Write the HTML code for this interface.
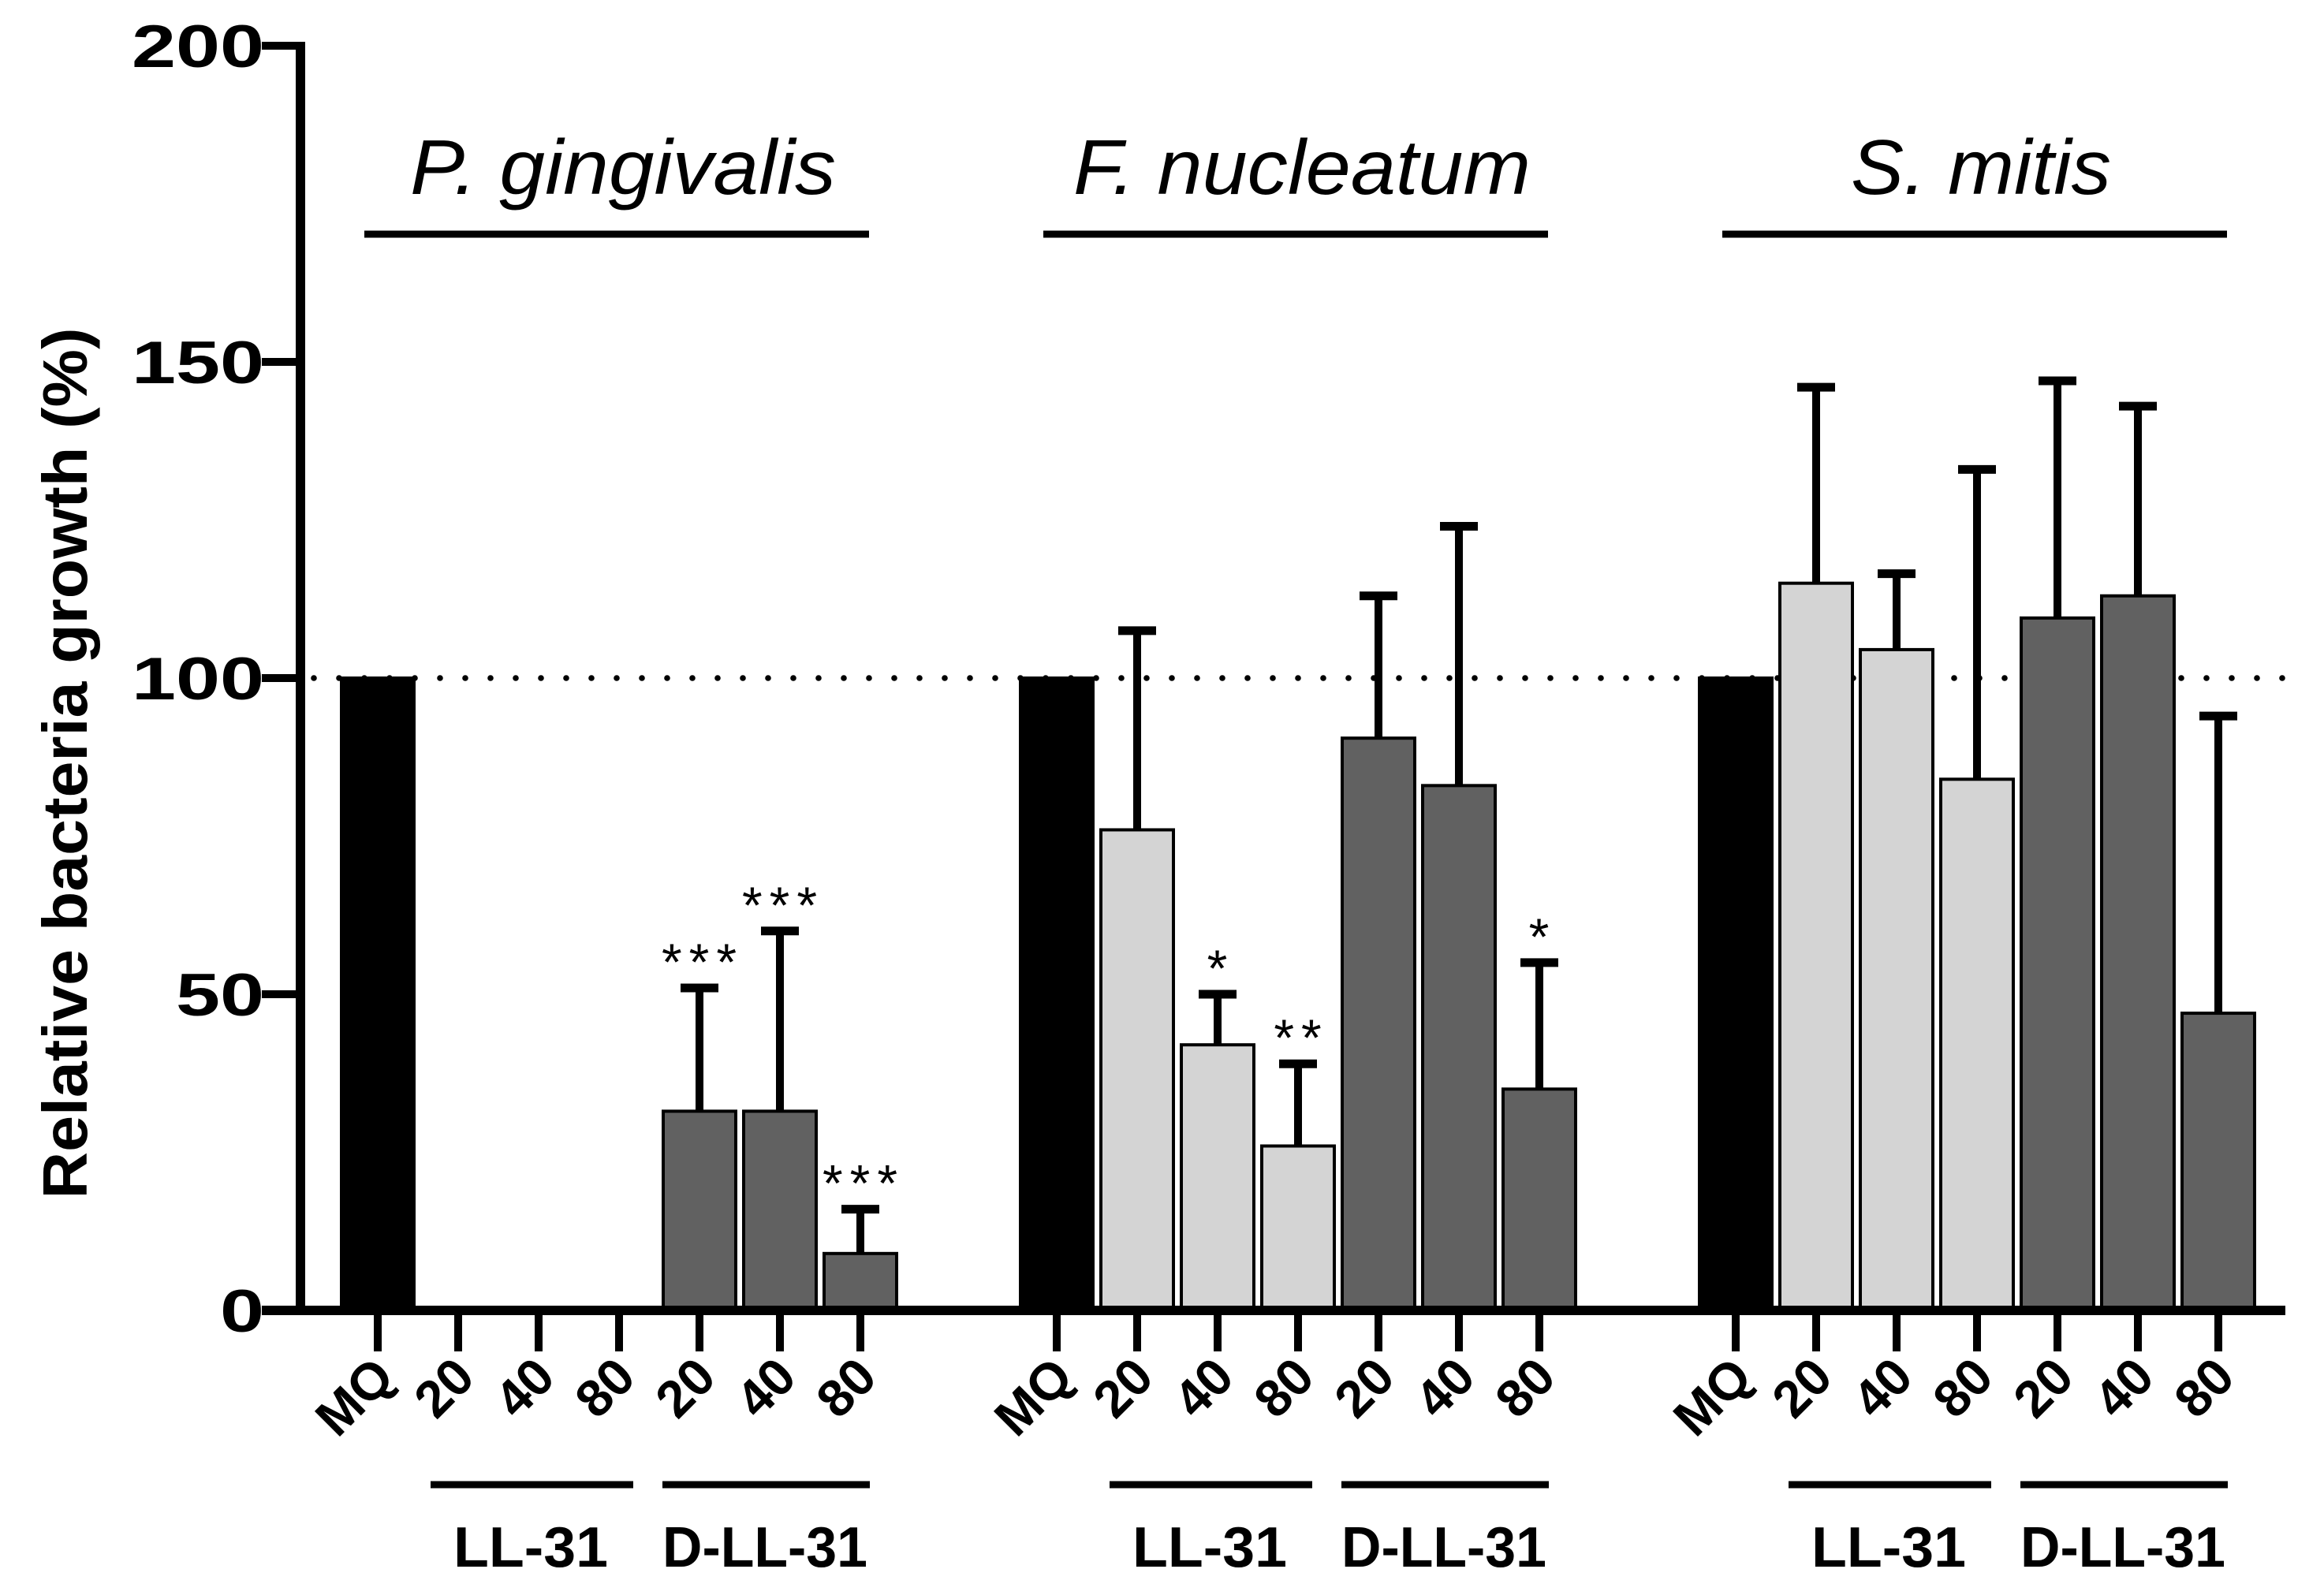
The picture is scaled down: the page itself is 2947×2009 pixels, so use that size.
<!DOCTYPE html>
<html><head><meta charset="utf-8"><style>
html,body{margin:0;padding:0;background:#fff;}
svg{display:block;}
text{font-family:"Liberation Sans",Arial,sans-serif;}
</style></head><body>
<svg id="chart" width="2947" height="2009" viewBox="0 0 2947 2009" xmlns="http://www.w3.org/2000/svg"></svg>
<script>
const species = ["P. gingivalis", "F. nucleatum", "S. mitis"];
const categories = ["MQ", "20", "40", "80", "20", "40", "80"];
const treatments = ["MQ", "LL-31", "LL-31", "LL-31", "D-LL-31", "D-LL-31", "D-LL-31"];
const pgValues = [100, 0, 0, 0, 31.5, 31.5, 9];
const pgErrors = [0, 0, 0, 0, 19.5, 28.5, 7];
const fnValues = [100, 76, 42, 26, 90.5, 83, 35];
const fnErrors = [0, 31.5, 8, 13, 22.5, 41, 20];
const smValues = [100, 115, 104.5, 84, 109.5, 113, 47];
const smErrors = [0, 31, 12, 49, 37.5, 30, 47];
const pgStars = ["", "", "", "", "***", "***", "***"];
const fnStars = ["", "", "*", "**", "", "", "*"];
const smStars = ["", "", "", "", "", "", ""];
const yTicks = [0, 50, 100, 150, 200];
const refLine = 100;

const values = [pgValues, fnValues, smValues];
const errors = [pgErrors, fnErrors, smErrors];
const stars = [pgStars, fnStars, smStars];
const titleWidths = [540, 580, 330];

const NS = "http://www.w3.org/2000/svg";
const svg = document.getElementById("chart");
function el(tag, attrs, parent) {
  const e = document.createElementNS(NS, tag);
  for (const k in attrs) e.setAttribute(k, attrs[k]);
  (parent || svg).appendChild(e);
  return e;
}
const Y0 = 1662, Y200 = 58, AX = 381;
function y(v) { return Y0 - (v / 200) * (Y0 - Y200); }
function x(g, i) { return 479 + g * 861 + i * 102; }
const BW = 96;
function fill(i) { return i === 0 ? "#000" : (treatments[i] === "LL-31" ? "#d4d4d4" : "#616161"); }

for (let px = 398; px < 2900; px += 32) {
  const d = el("circle", { cx: px, cy: y(refLine), r: 3.8, fill: "#000" });
  
  
}

values.forEach((vals, g) => {
  vals.forEach((v, i) => {
    const cx = x(g, i);
    if (errors[g][i] > 0) {
      const top = y(v + errors[g][i]);
      const e1 = el("line", { x1: cx, x2: cx, y1: y(v), y2: top, stroke: "#000", "stroke-width": 10 });
      
      
      const e2 = el("line", { x1: cx - 24, x2: cx + 24, y1: top, y2: top, stroke: "#000", "stroke-width": 11 });
      
      
      if (stars[g][i]) {
        const t = el("text", { x: cx + 4, y: top - 10, "text-anchor": "middle", "font-size": 66, "letter-spacing": 9 });
        t.textContent = stars[g][i];
        
        
      }
    }
    if (v > 0) {
      const r = el("rect", { x: cx - BW / 2 + 2, y: y(v), width: BW - 4, height: Y0 - y(v), fill: fill(i), stroke: "#000", "stroke-width": 4 });
      
      
    }
    const tk = el("line", { x1: cx, x2: cx, y1: Y0, y2: 1714, stroke: "#000", "stroke-width": 10 });
    
    
    const lb = el("text", { x: 0, y: 0, "text-anchor": "end", "font-size": 66, "font-weight": "bold", transform: `translate(${cx + 24},${1750}) rotate(-45)` });
    lb.textContent = categories[i];
    
    
  });
  const l1 = el("line", { x1: x(g, 1) - 35, x2: x(g, 3) + 18, y1: 1883, y2: 1883, stroke: "#000", "stroke-width": 9 });
  
  
  const l2 = el("line", { x1: x(g, 4) - 47, x2: x(g, 6) + 12, y1: 1883, y2: 1883, stroke: "#000", "stroke-width": 9 });
  
  
  const t1 = el("text", { x: x(g, 2) - 10, y: 1987, "text-anchor": "middle", "font-size": 72, "font-weight": "bold", textLength: 196, lengthAdjust: "spacingAndGlyphs" });
  t1.textContent = "LL-31";
  
  
  const t2 = el("text", { x: x(g, 5) - 19, y: 1987, "text-anchor": "middle", "font-size": 72, "font-weight": "bold", textLength: 260, lengthAdjust: "spacingAndGlyphs" });
  t2.textContent = "D-LL-31";
  
  
  const cx = (x(g, 0) + x(g, 6)) / 2 + 5;
  const st = el("text", { x: cx, y: 246, "text-anchor": "middle", "font-size": 98, "font-style": "italic", textLength: titleWidths[g], lengthAdjust: "spacingAndGlyphs" });
  st.textContent = species[g];
  
  
  const sl = el("line", { x1: x(g, 0) - 17, x2: x(g, 6) + 11, y1: 297, y2: 297, stroke: "#000", "stroke-width": 9 });
  
  
});

const ya = el("line", { x1: AX, x2: AX, y1: Y200 - 5, y2: Y0 + 6, stroke: "#000", "stroke-width": 12 });


const xa = el("line", { x1: 332, x2: 2898, y1: Y0, y2: Y0, stroke: "#000", "stroke-width": 12 });


yTicks.forEach(v => {
  const t = el("line", { x1: 332, x2: AX, y1: y(v), y2: y(v), stroke: "#000", "stroke-width": 10 });
  
  
  const s = String(v);
  const lb = el("text", { x: 335, y: y(v) + 27, "text-anchor": "end", "font-size": 76, "font-weight": "900", textLength: s.length * 56, lengthAdjust: "spacingAndGlyphs" });
  lb.textContent = s;
  
  
});
const yt = el("text", { x: 0, y: 0, "text-anchor": "middle", "font-size": 80, "font-weight": "bold", transform: "translate(110,968) rotate(-90)", textLength: 1105, lengthAdjust: "spacingAndGlyphs" });
yt.textContent = "Relative bacteria growth (%)";


</script>
</body></html>
